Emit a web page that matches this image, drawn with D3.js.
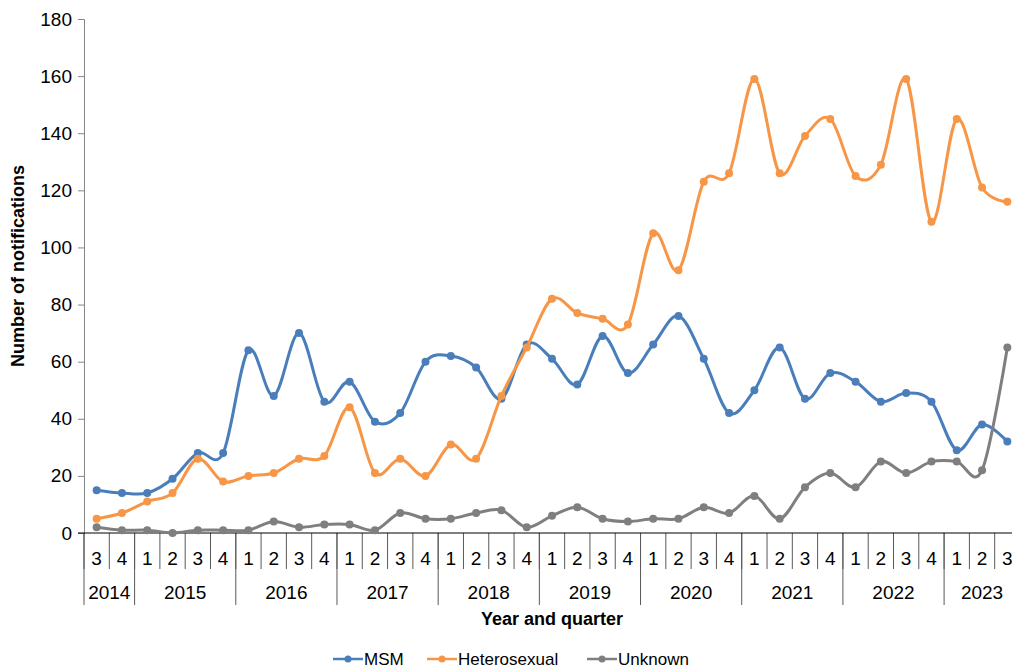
<!DOCTYPE html>
<html>
<head>
<meta charset="utf-8">
<script src="https://cdn.jsdelivr.net/npm/d3@7"></script>
<style>
  body { margin: 0; background: #fff; }
  svg { display: block; font-family: "Liberation Sans", Arial, sans-serif; }
</style>
</head>
<body>
<svg id="chart" width="1012" height="670"></svg>
<script>
// quarter labels, one per point (2014 Q3 .. 2023 Q3)
const quarterLabels = ["3","4",
  "1","2","3","4", "1","2","3","4", "1","2","3","4", "1","2","3","4",
  "1","2","3","4", "1","2","3","4", "1","2","3","4", "1","2","3","4",
  "1","2","3"];
const years = ["2014","2015","2016","2017","2018","2019","2020","2021","2022","2023"];
const yearSpans = [2, 4, 4, 4, 4, 4, 4, 4, 4, 3];

const msm = [15, 14, 14, 19, 28, 28, 64, 48, 70, 46, 53, 39, 42, 60, 62, 58, 47, 66,
  61, 52, 69, 56, 66, 76, 61, 42, 50, 65, 47, 56, 53, 46, 49, 46, 29, 38, 32];
const hetero = [5, 7, 11, 14, 26, 18, 20, 21, 26, 27, 44, 21, 26, 20, 31, 26, 48, 65,
  82, 77, 75, 73, 105, 92, 123, 126, 159, 126, 139, 145, 125, 129, 159, 109, 145, 121, 116];
const unknown = [2, 1, 1, 0, 1, 1, 1, 4, 2, 3, 3, 1, 7, 5, 5, 7, 8, 2,
  6, 9, 5, 4, 5, 5, 9, 7, 13, 5, 16, 21, 16, 25, 21, 25, 25, 22, 65];

const yTicks = [0, 20, 40, 60, 80, 100, 120, 140, 160, 180];

const series = [
  { name: "MSM", values: msm, color: "#4a7ebb" },
  { name: "Heterosexual", values: hetero, color: "#f79646" },
  { name: "Unknown", values: unknown, color: "#7f7f7f" }
];

const margin = { top: 19, left: 84 };
const plotBottom = 533;
const plotRight = 1020;

const svg = d3.select("#chart");

const x = d3.scaleBand()
  .domain(d3.range(quarterLabels.length))
  .range([margin.left, plotRight])
  .padding(0);

const y = d3.scaleLinear()
  .domain([0, 180])
  .range([plotBottom, margin.top]);

// y axis
const yAxis = d3.axisLeft(y)
  .tickValues(yTicks)
  .tickSize(6)
  .tickPadding(6);

const gy = svg.append("g")
  .attr("transform", "translate(" + margin.left + ",0)")
  .call(yAxis);
gy.select(".domain").attr("stroke", "#868686");
gy.selectAll(".tick line").attr("stroke", "#868686");
gy.selectAll(".tick text")
  .attr("fill", "#000")
  .style("font-size", "19px");

svg.append("text")
  .attr("transform", "translate(24," + ((margin.top + plotBottom) / 2 - 10) + ") rotate(-90)")
  .attr("text-anchor", "middle")
  .style("font-size", "18px")
  .style("font-weight", "bold")
  .text("Number of notifications");

// x axis: multi-level category axis
const gx = svg.append("g");

// quarter separators
gx.selectAll(".qsep")
  .data(d3.range(quarterLabels.length))
  .join("line")
  .attr("class", "qsep")
  .attr("x1", d => x(d)).attr("x2", d => x(d))
  .attr("y1", plotBottom).attr("y2", 569)
  .attr("stroke", "#595959");

gx.selectAll(".qlab")
  .data(quarterLabels)
  .join("text")
  .attr("class", "qlab")
  .attr("x", (d, i) => x(i) + x.bandwidth() / 2)
  .attr("y", 565)
  .attr("text-anchor", "middle")
  .style("font-size", "19px")
  .text(d => d);

// year groups
const starts = d3.cumsum([0].concat(yearSpans)).slice(0, years.length);
const yearData = years.map((yr, i) => ({ yr: yr, start: starts[i], span: yearSpans[i] }));

gx.selectAll(".ysep")
  .data(yearData)
  .join("line")
  .attr("class", "ysep")
  .attr("x1", d => x(d.start)).attr("x2", d => x(d.start))
  .attr("y1", plotBottom).attr("y2", 605)
  .attr("stroke", "#595959");

gx.selectAll(".ylab")
  .data(yearData)
  .join("text")
  .attr("class", "ylab")
  .attr("x", d => x(d.start) + x.bandwidth() * d.span / 2)
  .attr("y", 599)
  .attr("text-anchor", "middle")
  .style("font-size", "19px")
  .text(d => d.yr);

gx.append("line")
  .attr("x1", margin.left - 6).attr("x2", plotRight)
  .attr("y1", plotBottom).attr("y2", plotBottom)
  .attr("stroke", "#000");

svg.append("text")
  .attr("x", (margin.left + plotRight) / 2)
  .attr("y", 625)
  .attr("text-anchor", "middle")
  .style("font-size", "18px")
  .style("font-weight", "bold")
  .text("Year and quarter");

// lines
const line = d3.line()
  .x((d, i) => x(i) + x.bandwidth() / 2)
  .y(d => y(d))
  .curve(d3.curveCardinal.tension(0));

series.forEach(s => {
  const g = svg.append("g");
  g.append("path")
    .datum(s.values)
    .attr("fill", "none")
    .attr("stroke", s.color)
    .attr("stroke-width", 3)
    .attr("d", line);
  g.selectAll("circle")
    .data(s.values)
    .join("circle")
    .attr("cx", (d, i) => x(i) + x.bandwidth() / 2)
    .attr("cy", d => y(d))
    .attr("r", 4)
    .attr("fill", s.color);
});

// legend
const legendX = [333, 427, 587];
const lg = svg.append("g");
series.forEach((s, i) => {
  const g = lg.append("g").attr("transform", "translate(" + legendX[i] + ",659)");
  g.append("line")
    .attr("x1", 0).attr("x2", 30)
    .attr("stroke", s.color).attr("stroke-width", 2.5);
  g.append("circle").attr("cx", 15).attr("r", 3.5).attr("fill", s.color);
  g.append("text")
    .attr("x", 31).attr("y", 6)
    .style("font-size", "17px")
    .text(s.name);
});
</script>
</body>
</html>
